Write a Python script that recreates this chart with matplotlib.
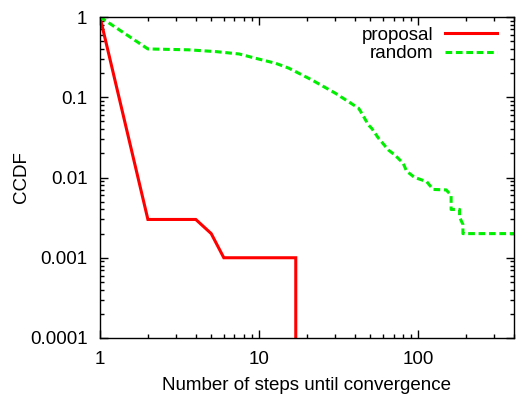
"""CCDF of the number of steps until convergence: proposal vs random."""

import matplotlib
matplotlib.use("Agg")
import matplotlib.pyplot as plt
from matplotlib.ticker import FixedLocator, FixedFormatter, LogLocator, NullFormatter

plt.rcParams["font.family"] = ["Liberation Sans", "DejaVu Sans"]

# proposal: steps / CCDF (drops to zero after 17 steps)
proposal_steps = [1, 2, 4, 5, 6, 17, 17]
proposal_ccdf = [1.0, 0.003, 0.003, 0.002, 0.001, 0.001, 1e-6]

# random: steps / CCDF
random_steps = [1, 2, 3.6, 5.4, 7.5, 9.5, 12.7, 15.4, 21.5, 30.2, 42.2, 44.2,
                48.7, 51, 56.2, 65, 71.5, 80.5, 84.5, 95, 113, 124, 150, 161,
                161, 182, 182, 191, 191, 400]
random_ccdf = [1.0, 0.40, 0.39, 0.37, 0.346, 0.306, 0.265, 0.23, 0.164, 0.112,
               0.073, 0.063, 0.045, 0.041, 0.031, 0.022, 0.019, 0.015, 0.012,
               0.010, 0.0089, 0.0071, 0.0070, 0.006, 0.004, 0.004, 0.0032,
               0.0026, 0.002, 0.002]

x_ticks = [1, 10, 100]
x_tick_labels = ["1", "10", "100"]
y_ticks = [1, 0.1, 0.01, 0.001, 0.0001]
y_tick_labels = ["1", "0.1", "0.01", "0.001", "0.0001"]

FS = 13.5


def main():
    fig = plt.figure(figsize=(5.16, 3.97), dpi=100)
    ax = fig.add_axes([100 / 516, 1 - 338 / 397, 414 / 516, (338 - 17) / 397])

    ax.plot(proposal_steps, proposal_ccdf, color="#ff0000", linewidth=2.2,
            label="proposal", solid_joinstyle="miter")
    ax.plot(random_steps, random_ccdf, color="#00ee00", linewidth=2.2,
            dashes=(2.2, 1.2), label="random")

    ax.set_xscale("log")
    ax.set_yscale("log")
    ax.set_xlim(1, 400)
    ax.set_ylim(0.0001, 1)

    ax.xaxis.set_major_locator(FixedLocator(x_ticks))
    ax.xaxis.set_major_formatter(FixedFormatter(x_tick_labels))
    ax.yaxis.set_major_locator(FixedLocator(y_ticks))
    ax.yaxis.set_major_formatter(FixedFormatter(y_tick_labels))
    for axis in (ax.xaxis, ax.yaxis):
        axis.set_minor_locator(LogLocator(base=10, subs=range(2, 10)))
        axis.set_minor_formatter(NullFormatter())

    ax.tick_params(which="both", direction="in", top=True, right=True,
                   width=1.0, labelsize=FS, colors="black")
    ax.tick_params(which="major", length=6)
    ax.tick_params(which="minor", length=3)
    ax.tick_params(axis="x", which="major", pad=9)
    ax.tick_params(axis="y", which="major", pad=9)
    for spine in ax.spines.values():
        spine.set_linewidth(1.0)

    ax.set_xlabel("Number of steps until convergence", fontsize=FS, labelpad=6.5)
    ax.set_ylabel("CCDF", fontsize=FS, labelpad=0)

    leg = ax.legend(loc="upper right", bbox_to_anchor=(0.982, 1.0), frameon=False,
                    fontsize=FS, markerfirst=False, handlelength=2.8,
                    handletextpad=0.6, labelspacing=0.1, borderaxespad=0.1)
    for text in leg.get_texts():
        text.set_ha("right")

    fig.savefig("out.png", dpi=100)


if __name__ == "__main__":
    main()
